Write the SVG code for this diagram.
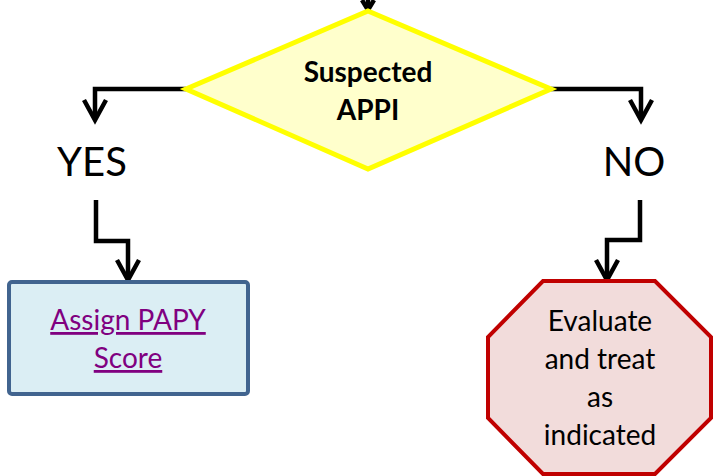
<svg xmlns="http://www.w3.org/2000/svg" width="713" height="476" viewBox="0 0 713 476">
<defs>
<style>
.conn{fill:none;stroke:#000;stroke-width:4.5;stroke-linejoin:miter}
.head{fill:none;stroke:#000;stroke-width:4.5;stroke-linejoin:miter;stroke-linecap:butt}
.lbl{font-family:Lato,"Open Sans",sans-serif;font-size:40px;fill:#000;text-anchor:middle}
.t{font-family:Lato,"Open Sans",sans-serif;text-anchor:middle}
</style>
</defs>
<rect width="713" height="476" fill="#fff"/>
<g id="connectors">
<path class="conn" d="M368,0 V8"/>
<path class="head" d="M362,0 L368,10 L374,0"/>
<path class="conn" d="M186,89 H95 V118"/>
<path class="head" d="M84,100 L95,120 L106,100"/>
<path class="conn" d="M551,89 H641 V118"/>
<path class="head" d="M630,100 L641,120 L652,100"/>
<path class="conn" d="M96,200 V241 H128 V278"/>
<path class="head" d="M117,260 L128,280 L139,260"/>
<path class="conn" d="M640,200 V240 H607 V278"/>
<path class="head" d="M596,260 L607,280 L618,260"/>
</g>
<g id="decision">
<polygon points="368,11 551,89 368,169 186,89" fill="#ffffcc" stroke="#ffff00" stroke-width="5" stroke-linejoin="miter"/>
<text class="t" x="368" y="82" font-size="28" font-weight="bold" fill="#000">Suspected</text>
<text class="t" x="368" y="120" font-size="28" font-weight="bold" fill="#000">APPI</text>
</g>
<g id="yes-label"><text class="lbl" x="92" y="176">YES</text></g>
<g id="no-label"><text class="lbl" x="634" y="176">NO</text></g>
<g id="assign">
<rect x="9" y="282" width="239" height="112" rx="3" fill="#dbeef4" stroke="#41648f" stroke-width="4"/>
<text class="t" x="128" y="330" font-size="28" fill="#800080" text-decoration="underline">Assign PAPY</text>
<text class="t" x="128" y="368" font-size="28" fill="#800080" text-decoration="underline">Score</text>
</g>
<g id="evaluate">
<polygon points="543,281 655,281 711,337 711,418 655,474 543,474 488,418 488,337" fill="#f2dcdb" stroke="#c00000" stroke-width="4"/>
<text class="t" x="600" y="331" font-size="28" fill="#000">Evaluate</text>
<text class="t" x="600" y="369" font-size="28" fill="#000">and treat</text>
<text class="t" x="600" y="407" font-size="28" fill="#000">as</text>
<text class="t" x="600" y="445" font-size="28" fill="#000">indicated</text>
</g>
</svg>
